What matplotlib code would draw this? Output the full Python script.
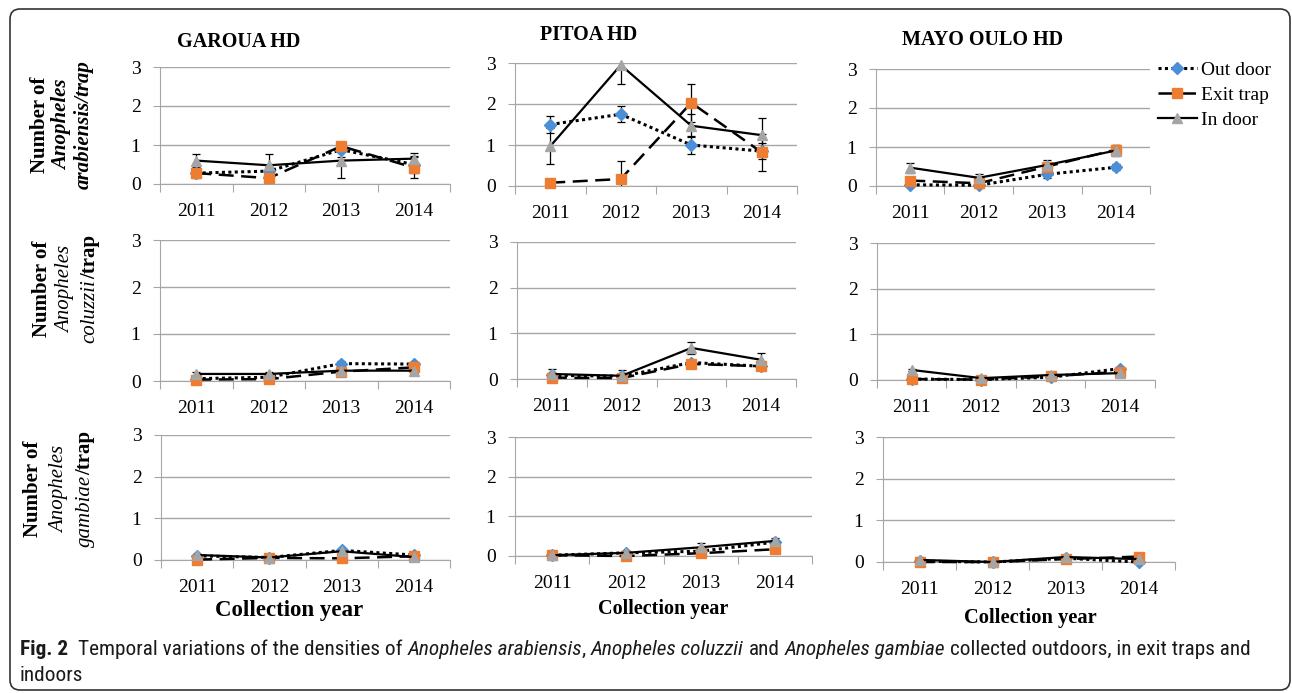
import numpy as np
import matplotlib
matplotlib.use('Agg')
import matplotlib.pyplot as plt
from matplotlib.lines import Line2D
from matplotlib.patches import FancyBboxPatch
from matplotlib.transforms import IdentityTransform
from matplotlib import font_manager

W, H = 1292, 693

years = ['2011', '2012', '2013', '2014']
sites = ['GAROUA HD', 'PITOA HD', 'MAYO OULO HD']
series = ['Out door', 'Exit trap', 'In door']

# values per site: Garoua, Pitoa, Mayo Oulo
arab_out = [[0.28, 0.33, 0.88, 0.50], [1.50, 1.75, 1.00, 0.85], [0.03, 0.02, 0.30, 0.48]]
arab_exit = [[0.28, 0.15, 0.97, 0.42], [0.08, 0.17, 2.03, 0.82], [0.14, 0.07, 0.50, 0.93]]
arab_in = [[0.60, 0.48, 0.60, 0.65], [0.97, 2.95, 1.47, 1.24], [0.47, 0.21, 0.54, 0.91]]
arab_out_err = [[0.07, 0.10, 0.20, 0.22], [0.21, 0.20, 0.22, 0.20], [0.03, 0.03, 0.10, 0.08]]
arab_exit_err = [[0.12, 0.05, 0.08, 0.26], [0.05, 0.43, 0.46, 0.45], [0.10, 0.05, 0.08, 0.12]]
arab_in_err = [[0.17, 0.29, 0.44, 0.14], [0.44, 0.45, 0.28, 0.42], [0.13, 0.10, 0.12, 0.15]]

colu_out = [[0.05, 0.08, 0.37, 0.36], [0.08, 0.06, 0.36, 0.28], [0.02, 0.01, 0.06, 0.25]]
colu_exit = [[0.03, 0.04, 0.20, 0.29], [0.03, 0.02, 0.33, 0.28], [0.02, 0.01, 0.08, 0.18]]
colu_in = [[0.15, 0.15, 0.22, 0.22], [0.11, 0.07, 0.68, 0.42], [0.22, 0.04, 0.11, 0.15]]
colu_out_err = [[0.03, 0.03, 0.05, 0.05], [0.03, 0.03, 0.06, 0.05], [0.01, 0.01, 0.03, 0.04]]
colu_exit_err = [[0.02, 0.02, 0.04, 0.05], [0.02, 0.02, 0.05, 0.05], [0.01, 0.01, 0.03, 0.03]]
colu_in_err = [[0.04, 0.04, 0.05, 0.06], [0.10, 0.13, 0.13, 0.15], [0.03, 0.02, 0.03, 0.04]]

gamb_out = [[0.10, 0.06, 0.23, 0.12], [0.02, 0.08, 0.12, 0.35], [0.02, 0.00, 0.09, 0.00]]
gamb_exit = [[0.01, 0.05, 0.04, 0.09], [0.02, 0.00, 0.07, 0.17], [0.00, 0.00, 0.07, 0.13]]
gamb_in = [[0.12, 0.06, 0.21, 0.07], [0.02, 0.08, 0.22, 0.38], [0.05, 0.00, 0.12, 0.07]]
gamb_out_err = [[0.02, 0.02, 0.04, 0.03], [0.01, 0.03, 0.04, 0.06], [0.01, 0.00, 0.02, 0.00]]
gamb_exit_err = [[0.01, 0.02, 0.02, 0.03], [0.01, 0.00, 0.03, 0.04], [0.00, 0.00, 0.02, 0.03]]
gamb_in_err = [[0.03, 0.02, 0.04, 0.02], [0.01, 0.03, 0.10, 0.07], [0.02, 0.00, 0.03, 0.02]]

rows = [
    (arab_out, arab_exit, arab_in, arab_out_err, arab_exit_err, arab_in_err),
    (colu_out, colu_exit, colu_in, colu_out_err, colu_exit_err, colu_in_err),
    (gamb_out, gamb_exit, gamb_in, gamb_out_err, gamb_exit_err, gamb_in_err),
]

# pixel boxes of each plot area: x0, x1, y of value 0, y of value 3
boxes = [
    [(160, 450, 184, 67), (515, 797, 186, 63), (876, 1150, 186, 69)],
    [(160, 450, 381, 240), (517, 796, 379, 242), (877, 1155, 380, 243)],
    [(161, 450, 560, 435), (515, 812, 556, 437), (883, 1175, 562, 437)],
]

SERIF = 'Liberation Serif'

# caption font: a narrow sans if one is installed
CAP_FONT, CAP_STRETCH = 'DejaVu Sans', 'normal'
for f in font_manager.fontManager.ttflist:
    if f.style != 'normal' or f.weight not in (400, 'normal', 'regular'):
        continue
    cond = str(f.stretch) in ('condensed', 'semi-condensed', 'extra-condensed') or \
        'Narrow' in f.name or 'Condensed' in f.name
    if cond and 'Serif' not in f.name and 'Mono' not in f.name:
        CAP_FONT, CAP_STRETCH = f.name, f.stretch
        if 'Liberation' in f.name or 'Open' in f.name:
            break

GRID = '#A6A6A6'
C_OUT, C_EXIT, C_IN = '#4A8FD8', '#EE7D31', '#A5A5A5'
LS_OUT = (0, (1, 1.1))
LS_EXIT = (0, (6, 3))

fig = plt.figure(figsize=(W / 100, H / 100), dpi=100)
r = fig.canvas.get_renderer()
ID = IdentityTransform()


def rich(x, y, pieces, size, family, rotation=0, color='black', center=True, stretch='normal'):
    """pieces: (text, style, weight); x, y in pixels from top-left."""
    texts = []
    kw = dict(fontsize=size, family=family, fontstretch=stretch, transform=ID)
    probe = fig.text(0, 0, 'x x', **kw)
    probe2 = fig.text(0, 0, 'xx', **kw)
    sp = probe.get_window_extent(r).width - probe2.get_window_extent(r).width
    probe.remove(); probe2.remove()
    for s, st, wt in pieces:
        lead = len(s) - len(s.lstrip(' '))
        trail = len(s) - len(s.rstrip(' '))
        t = fig.text(0, 0, s.strip(' '), style=st, weight=wt, color=color,
                     rotation_mode='anchor', **kw)
        w = t.get_window_extent(r).width
        texts.append((t, lead * sp, w, trail * sp))
    total = sum(a + b + c for _, a, b, c in texts)
    yd = H - y
    pos = (-total / 2 if center else 0)
    for t, a, w, c in texts:
        pos += a
        if rotation == 90:
            t.set_rotation(90)
            t.set_position((x, yd + pos))
            t.set_ha('left'); t.set_va('center')
        else:
            t.set_position((x + pos, yd))
            t.set_ha('left'); t.set_va('baseline')
        pos += w + c
    return total


for i, row in enumerate(rows):
    out, ext, ind, oe, ee, ie = row
    for j in range(3):
        x0, x1, yb, yt = boxes[i][j]
        ax = fig.add_axes([x0 / W, 1 - yb / H, (x1 - x0) / W, (yb - yt) / H])
        xs = np.arange(4) + 0.5
        for vals, err in ((out[j], oe[j]), (ext[j], ee[j]), (ind[j], ie[j])):
            ax.errorbar(xs, vals, yerr=err, fmt='none', ecolor='black',
                        elinewidth=0.9, capsize=3, capthick=0.9, zorder=2)
        ax.plot(xs, out[j], ls=LS_OUT, lw=2.2, color='black', marker='D', ms=6,
                mfc=C_OUT, mec=C_OUT, zorder=3, clip_on=False)
        ax.plot(xs, ext[j], ls=LS_EXIT, lw=1.8, color='black', marker='s', ms=7,
                mfc=C_EXIT, mec=C_EXIT, zorder=3, clip_on=False)
        ax.plot(xs, ind[j], ls='-', lw=1.6, color='black', marker='^', ms=7,
                mfc=C_IN, mec=C_IN, zorder=3, clip_on=False)
        ax.set_xlim(0, 4)
        ax.set_ylim(0, 3)
        ax.set_yticks([0, 1, 2, 3])
        ax.set_yticklabels(['0', '1', '2', '3'], family=SERIF, fontsize=14)
        ax.yaxis.grid(True, color=GRID, lw=1)
        ax.set_axisbelow(True)
        ax.set_xticks([0, 1, 2, 3, 4])
        ax.set_xticklabels([])
        ax.set_xticks(xs, minor=True)
        ax.set_xticklabels(years, minor=True, family=SERIF, fontsize=14)
        ax.tick_params(axis='x', which='major', length=6, color=GRID)
        ax.tick_params(axis='x', which='minor', length=0, pad=14)
        ax.tick_params(axis='y', length=5, color=GRID, pad=9)
        for s in ('top', 'right'):
            ax.spines[s].set_visible(False)
        for s in ('left', 'bottom'):
            ax.spines[s].set_color(GRID)
        ax.patch.set_alpha(0)

# titles
for name, (x, y) in zip(sites, [(239, 47), (589, 40), (983, 45)]):
    fig.text(x / W, 1 - y / H, name, family=SERIF, weight='bold', fontsize=14.5,
             ha='center', va='baseline')

# x labels
for (x, y, s) in [(289, 616, 16.5), (663, 614, 14.5), (1030, 623, 14.8)]:
    fig.text(x / W, 1 - y / H, 'Collection year', family=SERIF, weight='bold',
             fontsize=s, ha='center', va='baseline')

# y labels
ylabels = [
    [[('Number of', 'normal', 'bold')], [('Anopheles', 'italic', 'bold')],
     [('arabiensis/trap', 'italic', 'bold')]],
    [[('Number of', 'normal', 'bold')], [('Anopheles', 'italic', 'normal')],
     [('coluzzii', 'italic', 'normal'), ('/trap', 'normal', 'bold')]],
    [[('Number of', 'normal', 'bold')], [('Anopheles', 'italic', 'normal')],
     [('gambiae', 'italic', 'normal'), ('/trap', 'normal', 'bold')]],
]
ylab_pos = [((40, 62, 84), 125), ((42, 66, 90), 289), ((33, 60, 85), 489)]
for lines, (xs_, yc) in zip(ylabels, ylab_pos):
    for pieces, xl in zip(lines, xs_):
        rich(xl, yc, pieces, 15, SERIF, rotation=90)

# legend
handles = [
    Line2D([], [], ls=LS_OUT, lw=2.2, color='black', marker='D', ms=6, mfc=C_OUT, mec=C_OUT),
    Line2D([], [], ls=LS_EXIT, lw=1.8, color='black', marker='s', ms=7, mfc=C_EXIT, mec=C_EXIT),
    Line2D([], [], ls='-', lw=1.6, color='black', marker='^', ms=7, mfc=C_IN, mec=C_IN),
]
fig.legend(handles, series, loc='upper left', bbox_to_anchor=(1158 / W, 1 - 61 / H),
           frameon=False, prop={'family': SERIF, 'size': 14}, handlelength=2.0,
           handletextpad=0.2, labelspacing=0.38, borderpad=0, borderaxespad=0)

# caption
cap1 = [('Fig. 2', 'normal', 'bold'), ('  Temporal variations of the densities of ', 'normal', 'normal'),
        ('Anopheles arabiensis', 'italic', 'normal'), (', ', 'normal', 'normal'),
        ('Anopheles coluzzii', 'italic', 'normal'), (' and ', 'normal', 'normal'),
        ('Anopheles gambiae', 'italic', 'normal'),
        (' collected outdoors, in exit traps and', 'normal', 'normal')]
tmp = fig.text(0, 0, ''.join(p[0] for p in cap1), fontsize=12, family=CAP_FONT,
               fontstretch=CAP_STRETCH, transform=ID)
cap_size = 12 * 1242 / tmp.get_window_extent(r).width
tmp.remove()
rich(20, 655, cap1, cap_size, CAP_FONT, color='#1a1a1a', center=False, stretch=CAP_STRETCH)
rich(20, 681, [('indoors', 'normal', 'normal')], cap_size, CAP_FONT, color='#1a1a1a',
     center=False, stretch=CAP_STRETCH)

# frame
box = FancyBboxPatch((10, H - 690), 1280, 681, boxstyle='round,pad=0,rounding_size=10',
                     transform=ID, fill=False, ec='#333333', lw=1.2)
fig.add_artist(box)

fig.savefig('out.png', dpi=100)
